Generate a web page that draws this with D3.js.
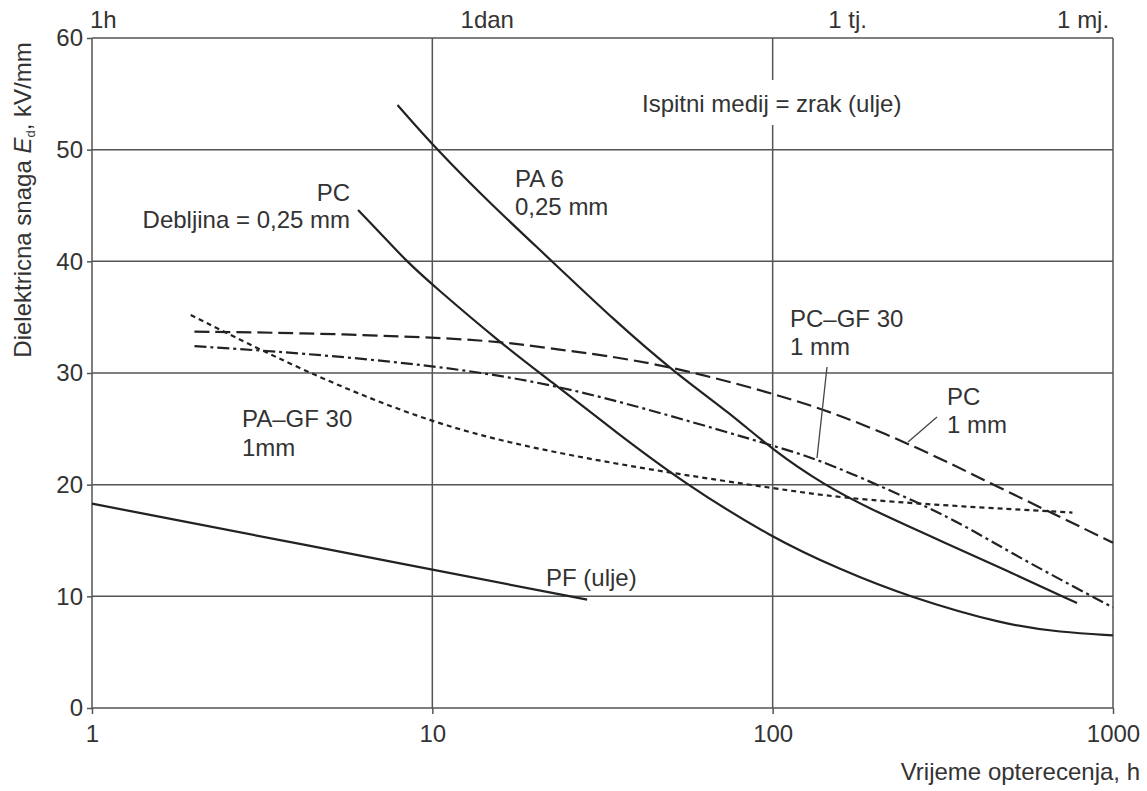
<!DOCTYPE html>
<html><head><meta charset="utf-8">
<script src="https://cdn.jsdelivr.net/npm/d3@7/dist/d3.min.js"></script>
<style>
body{margin:0;background:#fff;}
svg text{font-family:"Liberation Sans",Arial,sans-serif;fill:#333;}
</style></head>
<body><svg id="chart" width="1147" height="791"></svg>
<script>
// ---- data ----
const xTicks = [1, 10, 100, 1000];
const yTicks = [0, 10, 20, 30, 40, 50, 60];
const topLabels = ["1h", "1dan", "1 tj.", "1 mj."];
const topLabelHours = [1, 14.5, 166, 817];

const pa6 = [[7.9,54],[10.3,50],[15,45],[22.5,40],[34,34.8],[51.7,30],[75,26.4],[100,23.1],[141,20],[200,17.6],[310,15],[488,12.3],[784,9.4]];
const pc025 = [[6.05,44.6],[7,42.6],[8.4,40],[10,37.9],[16,32.6],[22,29.4],[35,24.6],[54.5,20.2],[100,15.2],[158,12.4],[248,10],[488,7.4],[700,6.8],[1000,6.5]];
const pfOil = [[1,18.3],[10,12.4],[28.5,9.7]];
const pc1mm = [[2,33.7],[4,33.6],[10,33.2],[16,32.8],[22.2,32.2],[45,31],[100,28.2],[160,26.2],[277,23.1],[438,20.1],[700,17.1],[1000,14.8]];
const pcgf30 = [[2,32.4],[4.07,31.8],[10,30.7],[22.2,29.1],[50,26.2],[100,23.5],[135,22.3],[203,20],[332,17.1],[488,14.1],[700,11.5],[1000,9]];
const pagf30 = [[1.95,35.2],[4.07,30.3],[10,25.4],[22.2,22.9],[51,21],[100,19.7],[158,18.8],[332,18.1],[760,17.5]];

// ---- layout ----
const svg = d3.select("#chart");
const L = 92, R = 1113, T = 38, B = 708;
const x = d3.scaleLog().domain([1, 1000]).range([L, R]);
const y = d3.scaleLinear().domain([0, 60]).range([B, T]);
const gridColor = "#555";
const FS = 24;

// grid
svg.append("g").selectAll("line").data(yTicks).join("line")
  .attr("x1", L).attr("x2", R).attr("y1", d => y(d)).attr("y2", d => y(d))
  .attr("stroke", gridColor).attr("stroke-width", 1.5);
svg.append("g").selectAll("line").data(xTicks).join("line")
  .attr("x1", d => x(d)).attr("x2", d => x(d)).attr("y1", T).attr("y2", B)
  .attr("stroke", gridColor).attr("stroke-width", 1.5);

// axes
const yAxis = d3.axisLeft(y).tickValues(yTicks).tickSize(5).tickPadding(4);
const gy = svg.append("g").attr("transform", `translate(${L},0)`).call(yAxis);
const xAxis = d3.axisBottom(x).tickValues(xTicks).tickFormat(d3.format("d")).tickSize(6).tickPadding(11);
const gx = svg.append("g").attr("transform", `translate(0,${B})`).call(xAxis);
[gy, gx].forEach(g => {
  g.select(".domain").remove();
  g.selectAll(".tick line").attr("stroke", gridColor).attr("stroke-width", 1.5);
  g.selectAll("text").attr("font-size", FS).attr("fill", "#333")
    .style("font-family", "Liberation Sans, Arial, sans-serif");
});

// top labels
svg.append("g").selectAll("text").data(topLabels).join("text")
  .attr("x", (d, i) => i === 0 ? x(topLabelHours[i]) - 2 : x(topLabelHours[i]))
  .attr("y", 28)
  .attr("text-anchor", (d, i) => i === 0 ? "start" : "middle")
  .attr("font-size", FS).text(d => d);

// axis titles
svg.append("text").attr("x", 1140).attr("y", 780).attr("text-anchor", "end")
  .attr("font-size", FS).text("Vrijeme opterecenja, h");
const yt = svg.append("text").attr("transform", "translate(31,200) rotate(-90)")
  .attr("text-anchor", "middle").attr("font-size", FS);
yt.append("tspan").text("Dielektricna snaga ");
yt.append("tspan").attr("font-style", "italic").text("E");
yt.append("tspan").attr("font-size", 13).attr("dy", 4).text("d");
yt.append("tspan").attr("dy", -4).text(", kV/mm");

// curves
const line = d3.line().x(d => x(d[0])).y(d => y(d[1])).curve(d3.curveBasis);
const series = [
  {data: pa6, dash: null},
  {data: pc025, dash: null},
  {data: pfOil, dash: null},
  {data: pc1mm, dash: "15,6"},
  {data: pcgf30, dash: "12,4,3,4"},
  {data: pagf30, dash: "5,4"}
];
svg.append("g").selectAll("path").data(series).join("path")
  .attr("d", d => line(d.data)).attr("fill", "none")
  .attr("stroke", "#222").attr("stroke-width", 2.2)
  .attr("stroke-dasharray", d => d.dash);

// label box
svg.append("rect").attr("x", 634).attr("y", 80).attr("width", 282).attr("height", 45).attr("fill", "#fff");

// annotations
const ann = [
  {t: "Ispitni medij = zrak (ulje)", x: 642, y: 112, a: "start"},
  {t: "PC", x: 350, y: 201, a: "end"},
  {t: "Debljina = 0,25 mm", x: 350, y: 228, a: "end"},
  {t: "PA 6", x: 515, y: 187, a: "start"},
  {t: "0,25 mm", x: 515, y: 215, a: "start"},
  {t: "PC\u2013GF 30", x: 790, y: 327, a: "start"},
  {t: "1 mm", x: 790, y: 355, a: "start"},
  {t: "PC", x: 947, y: 405, a: "start"},
  {t: "1 mm", x: 947, y: 433, a: "start"},
  {t: "PA\u2013GF 30", x: 242, y: 427, a: "start"},
  {t: "1mm", x: 242, y: 456, a: "start"},
  {t: "PF (ulje)", x: 546, y: 586, a: "start"}
];
svg.append("g").selectAll("text").data(ann).join("text")
  .attr("x", d => d.x).attr("y", d => d.y).attr("text-anchor", d => d.a)
  .attr("font-size", FS).text(d => d.t);

// pointer lines
const pointers = [[[827, 367], [817, 458]], [[937, 417], [908, 442]]];
svg.append("g").selectAll("line").data(pointers).join("line")
  .attr("x1", d => d[0][0]).attr("y1", d => d[0][1])
  .attr("x2", d => d[1][0]).attr("y2", d => d[1][1])
  .attr("stroke", "#444").attr("stroke-width", 1.3);
</script></body></html>
